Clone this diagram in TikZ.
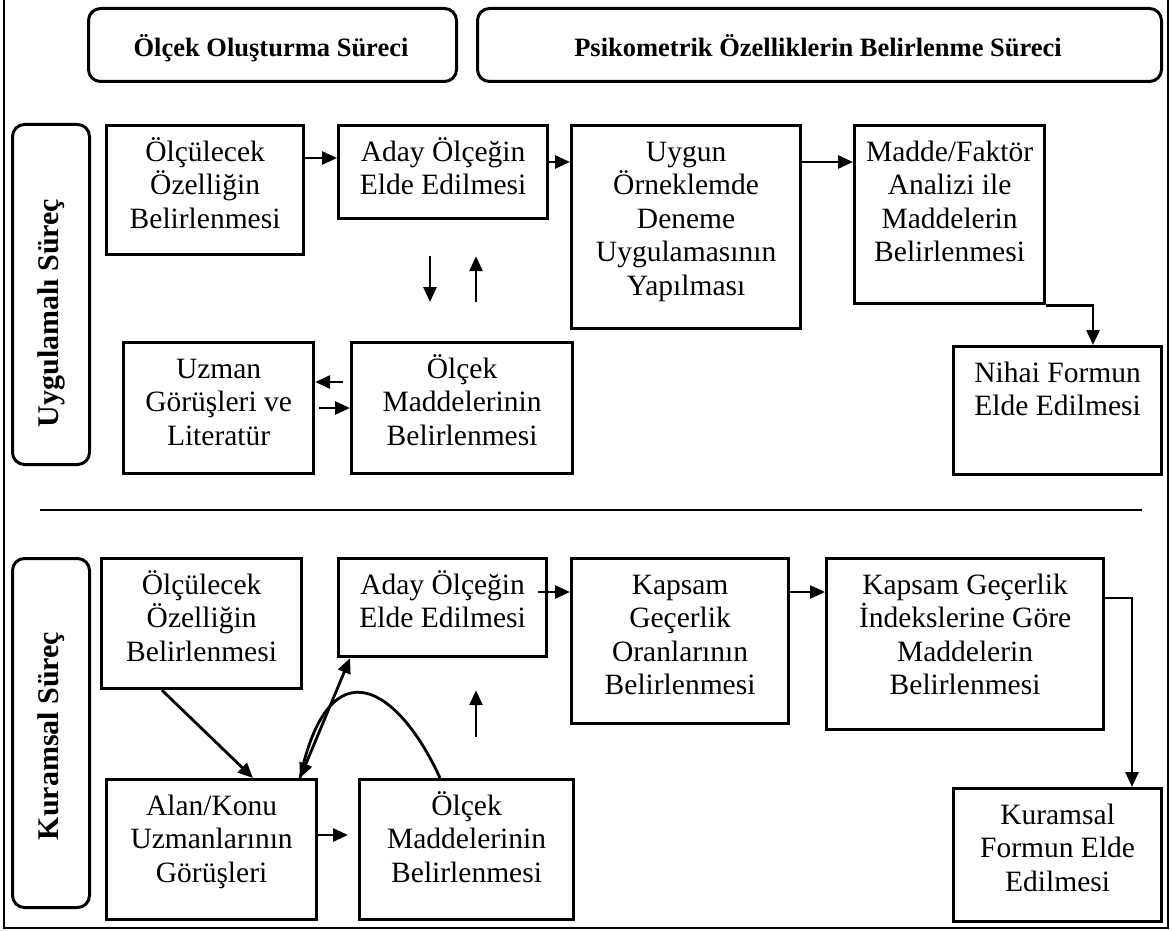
\documentclass[tikz,border=0pt]{standalone}
\usepackage{fontspec}
\setmainfont{Liberation Serif}
\usetikzlibrary{arrows.meta}
% a strut taller than any accented capital, so every box text starts at the same depth
\newcommand\firstrule{\rule{0pt}{27pt}}
% \flowbox{name}{x1}{y1}{x2}{y2}{text}
\newcommand\flowbox[6]{%
  \node[stepbox, anchor=north west, minimum width=#4pt-#2pt, minimum height=#5pt-#3pt] (#1) at (#2,#3) {};
  \node[lbl, anchor=north] (#1-text) at ([yshift=-10pt]#1.north) {\firstrule#6};
}
\begin{document}
\begin{tikzpicture}[x=1pt,y=-1pt,
  stepbox/.style={draw=black, line width=3.2pt, rectangle, inner sep=0pt},
  roundbox/.style={draw=black, line width=3pt, rounded corners=12pt, inner sep=0pt},
  lbl/.style={align=center, inner sep=0pt, font=\fontsize{29.5}{33.5}\selectfont},
  head/.style={inner sep=0pt, font=\fontsize{26.5}{30}\selectfont\bfseries},
  side/.style={inner sep=0pt, rotate=90, font=\fontsize{30}{34}\selectfont\bfseries},
  arr/.style={line width=2.8pt, -{Triangle[length=15pt,width=13pt]}},
  dblarr/.style={line width=2.8pt, {Triangle[length=15pt,width=13pt]}-{Triangle[length=15pt,width=13pt]}},
  link/.style={line width=2.8pt}
]
\useasboundingbox (0,0) rectangle (1172,931);

% outer frame
\draw[line width=1.6pt] (4,-5) rectangle (1168,928);

% column headings
\node[roundbox, anchor=north west, minimum width=368pt, minimum height=73pt] (hA) at (87,7) {};
\node[head, anchor=base] (hA-text) at (271,57) {Ölçek Oluşturma Süreci};
\node[roundbox, anchor=north west, minimum width=684pt, minimum height=73pt] (hB) at (476,7) {};
\node[head, anchor=base] (hB-text) at (818,57) {Psikometrik Özelliklerin Belirlenme Süreci};

% row headings
\node[roundbox, anchor=north west, minimum width=77pt, minimum height=340pt] (rA) at (11,123) {};
\node[side] (rA-text) at (51,313) {Uygulamalı Süreç};
\node[roundbox, anchor=north west, minimum width=77pt, minimum height=349pt] (rB) at (11,557) {};
\node[side] (rB-text) at (51,736) {Kuramsal Süreç};

% divider between the two processes
\coordinate (divL) at (40,510);
\coordinate (divR) at (1142,510);
\draw[line width=2.4pt] (divL) -- (divR);

% applied process
\flowbox{A}{105}{124}{302}{253}{Ölçülecek\\Özelliğin\\Belirlenmesi}
\flowbox{B}{337}{124}{546}{217}{Aday Ölçeğin\\Elde Edilmesi}
\flowbox{C}{570}{124}{799}{327}{Uygun\\Örneklemde\\Deneme\\Uygulamasının\\Yapılması}
\flowbox{D}{853}{124}{1043}{302}{Madde/Faktör\\Analizi ile\\Maddelerin\\Belirlenmesi}
\flowbox{E}{952}{345}{1160}{473}{Nihai Formun\\Elde Edilmesi}
\flowbox{H}{122}{341}{312}{472}{Uzman\\Görüşleri ve\\Literatür}
\flowbox{G}{350}{341}{571}{472}{Ölçek\\Maddelerinin\\Belirlenmesi}

% theoretical process
\flowbox{I}{100}{557}{300}{687}{Ölçülecek\\Özelliğin\\Belirlenmesi}
\flowbox{J}{337}{557}{545}{655}{Aday Ölçeğin\\Elde Edilmesi}
\flowbox{K}{570}{557}{787}{722}{Kapsam\\Geçerlik\\Oranlarının\\Belirlenmesi}
\flowbox{L}{825}{557}{1102}{728}{Kapsam Geçerlik\\İndekslerine Göre\\Maddelerin\\Belirlenmesi}
\flowbox{F}{952}{787}{1160}{920}{Kuramsal\\Formun Elde\\Edilmesi}
\flowbox{M}{105}{778}{315}{918}{Alan/Konu\\Uzmanlarının\\Görüşleri}
\flowbox{N}{358}{778}{572}{918}{Ölçek\\Maddelerinin\\Belirlenmesi}

% guide coordinates for connector rows and columns
\coordinate (r158) at (0,158);
\coordinate (r162) at (0,162);
\coordinate (r382) at (0,382);
\coordinate (r408) at (0,408);
\coordinate (r592) at (0,592);
\coordinate (r598) at (0,598);
\coordinate (r835) at (0,835);
\coordinate (c162) at (162,0);
\coordinate (c253) at (253,0);
\coordinate (c300) at (300,0);
\coordinate (c350) at (350,0);
\coordinate (c430) at (430,0);
\coordinate (c440) at (440,0);
\coordinate (c476) at (476,0);
\coordinate (c1093) at (1093,0);
\coordinate (c1132) at (1132,0);

% connectors, applied process
\draw[arr] (A.east |- r158) -- (B.west |- r158);
\draw[arr] (B.east |- r162) -- (C.west |- r162);
\draw[arr] (C.east |- r162) -- (D.west |- r162);
\draw[arr] (D.south east) -- (D.south east -| c1093) -- (E.north -| c1093);
\draw[arr, shorten <=36pt, shorten >=39pt] (B.south -| c430) -- (G.north -| c430);
\draw[arr, shorten <=39pt, shorten >=36pt] (G.north -| c476) -- (B.south -| c476);
\draw[arr, shorten <=7pt] (G.west |- r382) -- (H.east |- r382);
\draw[arr, shorten <=4pt] (H.east |- r408) -- (G.west |- r408);

% connectors, theoretical process
\draw[arr, shorten <=-10pt] (J.east |- r592) -- (K.west |- r592);
\draw[arr] (K.east |- r592) -- (L.west |- r592);
\draw[arr] (L.east |- r598) -- (r598 -| c1132) -- (F.north -| c1132);
\draw[arr] (I.south -| c162) -- (M.north -| c253);
\draw[dblarr] (M.north -| c300) -- (J.south -| c350);
\draw[link] (N.north -| c440) .. controls (400,690) and (330,640) .. (M.north -| c300);
\draw[arr, shorten <=41pt, shorten >=32pt] (N.north -| c476) -- (J.south -| c476);
\draw[arr, shorten <=-3pt, shorten >=10pt] (M.east |- r835) -- (N.west |- r835);

\end{tikzpicture}
\end{document}
